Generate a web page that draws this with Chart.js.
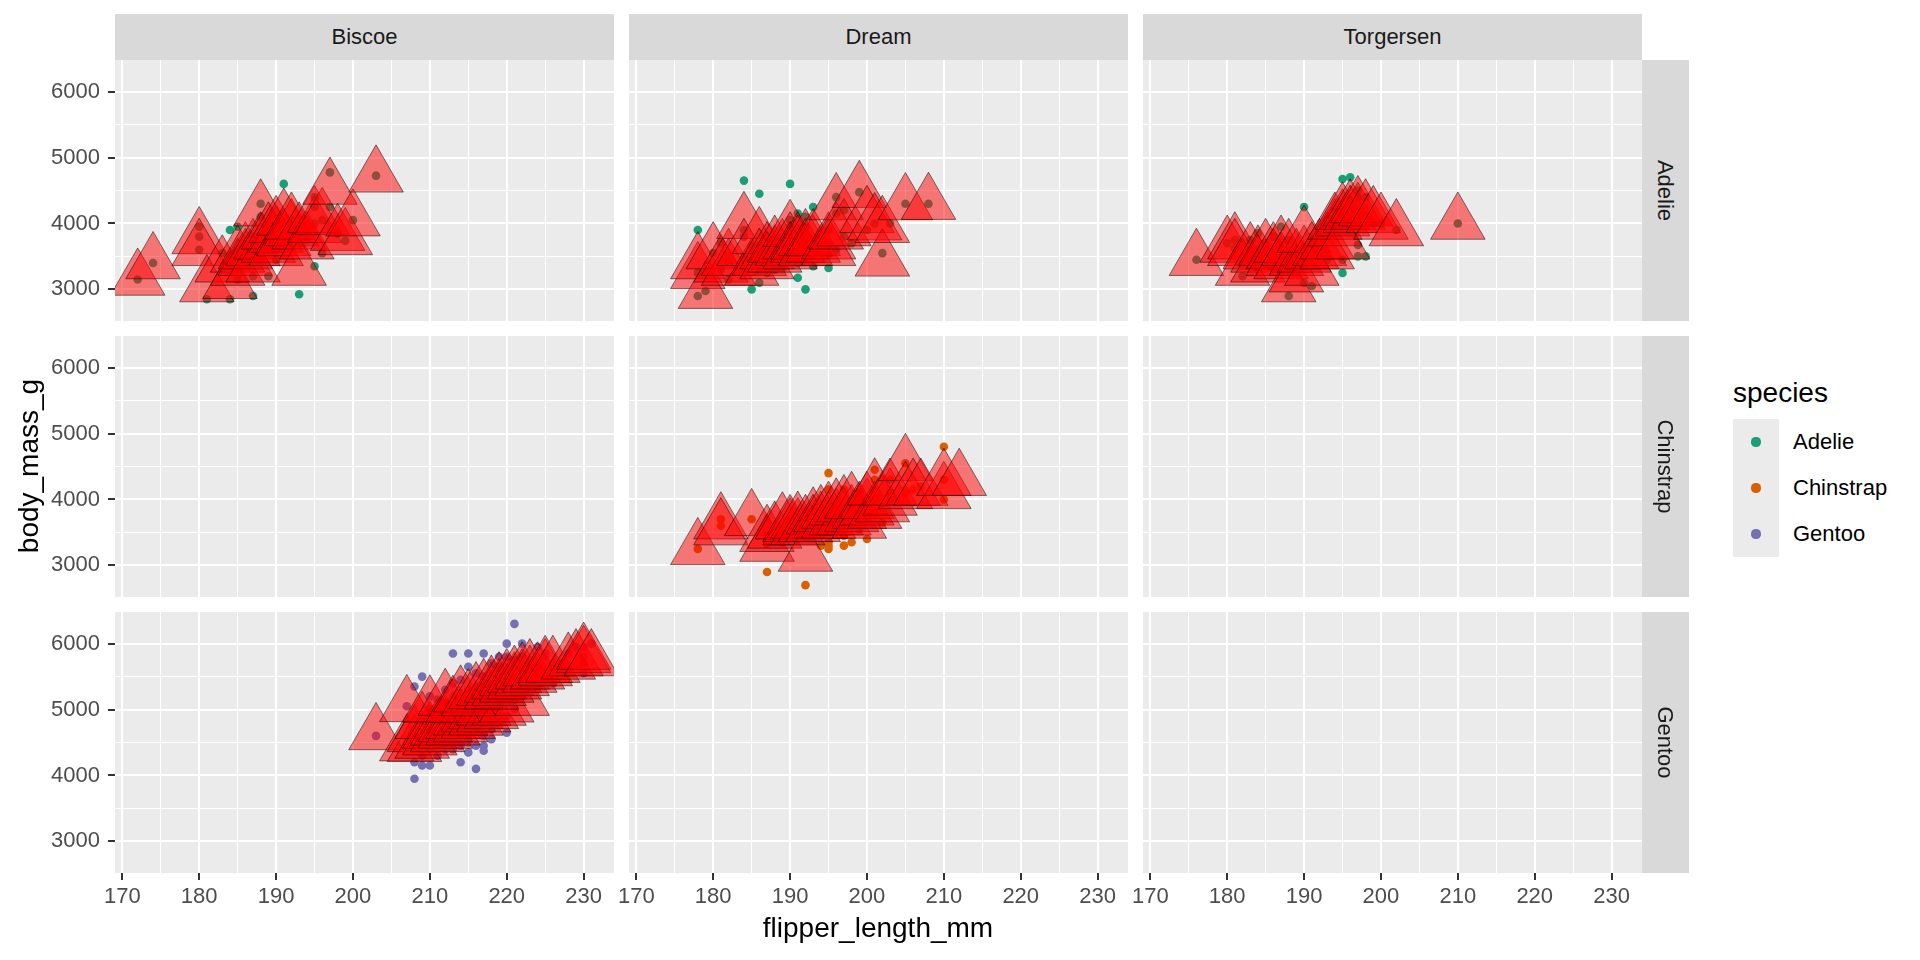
<!DOCTYPE html>
<html>
<head>
<meta charset="utf-8">
<script src="https://cdn.jsdelivr.net/npm/chart.js@4.4.1/dist/chart.umd.min.js"></script>
<style>
  body { margin: 0; background: #fff; font-family: "Liberation Sans", Arial, sans-serif; }
  #wrap { position: relative; width: 1920px; height: 960px; overflow: hidden; }
  canvas { position: absolute; }
  .strip { position: absolute; background: #D9D9D9; color: #1A1A1A; font-size: 22px; text-align: center; overflow: hidden; }
  .strip-y span { position: absolute; text-align: center; transform: rotate(90deg); }
  .txt { position: absolute; white-space: nowrap; }
</style>
</head>
<body>
<div id="wrap"></div>
<script>
const islands = ['Biscoe', 'Dream', 'Torgersen'];
const speciesNames = ['Adelie', 'Chinstrap', 'Gentoo'];
const speciesColors = ['#1B9E77', '#D95F02', '#7570B3'];

const xTicks = [170, 180, 190, 200, 210, 220, 230];
const xMinor = [175, 185, 195, 205, 215, 225];
const yTicks = [3000, 4000, 5000, 6000];
const yMinor = [3500, 4500, 5500];

// [flipper_length_mm, body_mass_g]
const biscoeAdelie = [[174,3400],[180,3600],[189,3800],[185,3950],[180,3800],[187,3800],[183,3550],[187,3200],[172,3150],[180,3950],
  [186,3500],[188,4300],[190,3450],[200,4050],[187,2900],[191,3700],[186,3550],[193,3800],[181,2850],[194,3750],[185,3150],[195,4400],
  [185,3600],[192,4050],[184,2850],[192,3950],[195,3350],[188,4100],[193,2925],[198,3850],[190,3600],[190,3900],[196,3550],[197,4250],
  [190,3700],[195,4250],[191,4600],[184,3900],[187,3550],[195,4000],[189,3200],[196,4050],[197,4775],[199,3740],[203,4725]];
const biscoeAdelieFit = [[172,3150],[174,3400],[180,3780],[180,3600],[181,3050],[183,3350],[184,3100],[185,3500],[185,3300],[186,3450],
  [186,3550],[187,3600],[187,3350],[188,4200],[188,3700],[189,3650],[189,3850],[190,3800],[190,3950],[190,3600],[191,4060],[191,3750],
  [192,3900],[192,4000],[193,3850],[193,3300],[194,3700],[195,3950],[195,4100],[196,4070],[197,4530],[198,3830],[199,3765],[200,4050],[203,4715]];

const dreamAdelie = [[178,3250],[178,3900],[188,3300],[184,3900],[195,3325],[196,4150],[190,3950],[180,3550],[181,3300],[184,4650],
  [182,3150],[195,3900],[186,3100],[196,4400],[185,3000],[190,4600],[182,3425],[179,2975],[190,3450],[191,4150],[188,3500],[187,3450],
  [190,4050],[191,3400],[193,4250],[187,3250],[184,3475],[192,3950],[186,3275],[189,3325],[178,2900],[186,4450],[191,3175],[192,3000],
  [188,3400],[195,3525],[197,3800],[202,3550],[208,4300],[201,4000],[198,3700],[197,4200],[193,3350],[200,3900],[199,4475],[205,4300],
  [184,3800],[187,3700],[195,3675],[196,3600],[181,3700],[190,3725],[192,4100],[185,3650],[187,3625],[203,4000]];
const dreamAdelieFit = [[178,3250],[178,3400],[179,2950],[180,3550],[181,3350],[182,3300],[182,3450],[184,4010],[184,3600],[185,3300],
  [186,3780],[186,3450],[187,3550],[187,3400],[188,3500],[188,3650],[189,3600],[190,3890],[190,3700],[190,3550],[191,3700],[191,3650],
  [192,3750],[192,3600],[193,3650],[193,3750],[195,3700],[195,3600],[196,4295],[196,3850],[197,3900],[199,4480],[200,4100],[201,3990],
  [202,3440],[202,3950],[205,4295],[208,4300]];

const torgersenAdelie = [[181,3750],[186,3800],[195,3250],[193,3450],[190,3650],[181,3625],[195,4675],[193,3475],[190,4250],[186,3300],
  [180,3700],[182,3200],[191,3800],[198,4400],[185,3700],[195,3450],[197,4500],[184,3325],[194,4200],[176,3450],[184,3600],[187,3450],
  [189,3300],[188,2900],[191,3050],[190,3350],[195,3950],[196,4700],[196,4150],[199,4000],[202,3900],[197,3500],[198,3500],[210,4000],
  [189,3500],[187,3550],[192,3600],[195,4100],[196,4350],[197,4400],[193,4050],[188,3750],[185,3675],[183,3750],[186,3400],[190,3100],
  [184,3850],[187,3950],[197,3675],[194,3900],[200,4000]];
const torgersenAdelieFit = [[176,3450],[180,3650],[181,3700],[181,3600],[182,3300],[183,3550],[184,3500],[184,3350],[185,3600],[186,3550],
  [186,3450],[187,3650],[187,3400],[188,3050],[188,3600],[189,3450],[189,3200],[190,3500],[190,3800],[191,3550],[191,3300],[192,3600],
  [193,3700],[193,3550],[194,3900],[194,4000],[195,4050],[195,4150],[195,3700],[196,4200],[196,4100],[197,4150],[197,4250],[198,4200],
  [199,4100],[200,4000],[202,3900],[210,4000]];

const dreamChinstrap = [[192,3500],[196,3900],[193,3650],[188,3525],[197,3725],[198,3950],[178,3250],[197,3750],[195,4150],[198,3700],
  [193,3800],[194,3775],[185,3700],[201,4050],[190,3575],[201,4300],[197,3300],[181,3700],[190,3450],[195,4400],[181,3600],[191,3400],
  [187,2900],[193,3800],[195,3300],[197,4150],[200,3400],[200,3800],[191,3700],[205,4550],[192,2700],[201,4450],[187,3325],[203,4300],
  [195,3350],[199,4100],[195,3250],[210,4800],[192,3675],[205,4100],[210,4000],[187,3350],[196,3600],[199,3550],[202,3650],[191,3575],
  [198,3800],[203,4100],[194,3300],[206,4150],[189,3350],[210,4300],[195,3775],[199,3600],[190,3700],[197,3450],[200,3675],[193,3500],
  [187,3450],[201,3800],[191,3450],[203,4000],[202,3950],[207,4200],[196,3700],[198,3350],[194,3525],[193,3525]];
const dreamChinstrapFit = [[178,3250],[181,3640],[181,3550],[185,3690],[187,3300],[187,3450],[188,3500],[189,3640],[190,3550],[190,3600],
  [191,3550],[191,3650],[192,3150],[192,3600],[193,3715],[193,3600],[194,3650],[194,3750],[195,3650],[195,3800],[196,3700],[196,3850],
  [197,3700],[197,3900],[198,3750],[198,3950],[199,3800],[199,3650],[200,3850],[200,3950],[201,3800],[201,4155],[202,3900],[203,4000],
  [203,4150],[205,4525],[205,4100],[206,4150],[207,4150],[210,4100],[210,4300],[212,4300]];

const biscoeGentoo = [[203,4600],[208,3950],[208,4200],[209,4150],[210,4150],[210,4450],[210,4400],[211,4450],[211,4300],[212,4500],
  [212,4650],[213,4400],[213,4500],[213,4550],[214,4650],[214,4850],[215,4350],[215,4700],[215,4900],[216,4100],[216,4700],[216,4750],
  [217,4375],[217,4600],[217,4625],[217,4950],[218,4700],[218,4750],[218,5000],[219,4850],[209,4600],[210,4700],[211,4600],[212,4400],
  [212,4875],[213,4925],[214,4750],[215,4500],[216,4450],[209,4300],[210,4550],[211,4850],[212,4800],[214,4200],[215,4550],[213,4675],
  [216,4800],[219,4800],[220,4900],[222,5200],[220,4650],[218,4550],[217,4450],[221,5000],[214,4450],
  [208,5350],[209,5500],[210,5200],[211,5150],[212,5300],[213,5850],[213,5400],[214,5450],[215,5650],[215,5300],[215,5000],[216,5550],
  [216,5200],[217,5850],[217,5500],[218,5700],[218,5300],[219,5650],[219,5500],[220,6000],[220,5800],[220,5350],[221,6300],[221,5600],
  [221,5150],[222,5600],[222,5800],[222,6000],[222,5400],[223,5600],[223,5700],[224,5950],[224,5650],[225,5500],[225,5800],[226,5700],
  [226,5400],[227,5700],[228,5850],[228,5600],[229,5950],[230,5800],[230,5700],[230,5550],[231,6000],[230,5950],[225,5850],[224,5350],
  [226,5650],[223,5550],[219,5800],[221,5750],[215,5850],[217,5350],[220,5500],[212,5100],[207,5050],[218,5050],[210,5000]];
const biscoeGentooFit = [[203,4630],[207,4460],[208,4450],[208,4600],[209,4500],[209,4800],[210,4550],[210,4650],[211,4600],[211,4700],
  [212,4650],[212,4750],[213,4700],[213,4800],[214,4750],[214,4850],[215,4800],[215,4900],[216,4850],[216,4950],[217,4900],[217,5000],
  [218,4950],[219,5000],[220,5050],[222,5150],
  [207,5055],[210,5050],[212,5150],[213,5044],[214,5200],[215,5145],[216,5250],[217,5300],[218,5245],[218,5350],[219,5300],[219,5400],
  [220,5350],[220,5450],[221,5400],[221,5500],[222,5450],[222,5550],[223,5500],[223,5600],[224,5550],[225,5600],[225,5650],[226,5650],
  [228,5700],[229,5750],[230,5800],[230,5850],[231,5750]];

const panels = [
  {row: 0, col: 0, sp: 0, dots: biscoeAdelie, fit: biscoeAdelieFit},
  {row: 0, col: 1, sp: 0, dots: dreamAdelie, fit: dreamAdelieFit},
  {row: 0, col: 2, sp: 0, dots: torgersenAdelie, fit: torgersenAdelieFit},
  {row: 1, col: 0, sp: 1, dots: [], fit: []},
  {row: 1, col: 1, sp: 1, dots: dreamChinstrap, fit: dreamChinstrapFit},
  {row: 1, col: 2, sp: 1, dots: [], fit: []},
  {row: 2, col: 0, sp: 2, dots: biscoeGentoo, fit: biscoeGentooFit},
  {row: 2, col: 1, sp: 2, dots: [], fit: []},
  {row: 2, col: 2, sp: 2, dots: [], fit: []},
];

// layout (px)
const colLeft = [115, 629, 1143], PW = 499;
const rowTop = [60, 336, 612], PH = 261;
const wrap = document.getElementById('wrap');

const panelBg = {
  id: 'panelBg',
  beforeDraw(chart) {
    const a = chart.chartArea, ctx = chart.ctx;
    ctx.save();
    ctx.fillStyle = '#EBEBEB';
    ctx.fillRect(a.left, a.top, a.right - a.left, a.bottom - a.top);
    ctx.restore();
  }
};

function addDiv(cls, css, text) {
  const d = document.createElement('div');
  d.className = cls;
  d.style.cssText = css;
  if (text) d.textContent = text;
  wrap.appendChild(d);
  return d;
}

function makePanel(p) {
  const isLeft = p.col === 0, isBottom = p.row === 2;
  const padL = isLeft ? 0 : 20, padR = 20;
  const axisW = isLeft ? 75 : 0, axisH = isBottom ? 40 : 0;
  const w = padL + axisW + PW + padR, h = PH + axisH;
  const canvas = document.createElement('canvas');
  canvas.width = w; canvas.height = h;
  canvas.style.left = (colLeft[p.col] - padL - axisW) + 'px';
  canvas.style.top = rowTop[p.row] + 'px';
  canvas.style.width = w + 'px'; canvas.style.height = h + 'px';
  wrap.appendChild(canvas);

  const tickFont = {family: '"Liberation Sans", Arial, sans-serif', size: 22};
  const fixPad = s => { s.paddingLeft = 0; s.paddingRight = 0; s.paddingTop = 0; s.paddingBottom = 0; };

  new Chart(canvas.getContext('2d'), {
    type: 'scatter',
    data: {
      datasets: [{
        data: p.fit.map(d => ({x: d[0], y: d[1]})),
        pointStyle: 'triangle',
        pointRadius: 31.5,
        pointHoverRadius: 31.5,
        backgroundColor: 'rgba(255,0,0,0.5)',
        borderColor: 'rgba(0,0,0,0.5)',
        borderWidth: 1,
        clip: 0
      }, {
        data: p.dots.map(d => ({x: d[0], y: d[1]})),
        pointStyle: 'circle',
        pointRadius: 4.3,
        pointHoverRadius: 4.3,
        backgroundColor: speciesColors[p.sp],
        borderWidth: 0,
        clip: 0
      }]
    },
    options: {
      responsive: false,
      animation: false,
      events: [],
      layout: {autoPadding: false, padding: {left: padL, right: padR, top: 0, bottom: 0}},
      plugins: {legend: {display: false}, tooltip: {enabled: false}},
      scales: {
        x: {
          type: 'linear', min: 169.05, max: 233.95,
          afterBuildTicks: s => { s.ticks = xTicks.concat(xMinor).sort((a, b) => a - b).map(v => ({value: v})); },
          afterFit: s => { s.height = axisH; fixPad(s); },
          border: {display: false},
          grid: {
            color: '#FFFFFF',
            lineWidth: c => xTicks.includes(c.tick && c.tick.value) ? 2 : 1,
            drawTicks: isBottom,
            tickLength: 7,
            tickColor: c => xTicks.includes(c.tick && c.tick.value) ? '#333333' : 'rgba(0,0,0,0)',
            tickWidth: 2
          },
          ticks: {
            display: isBottom, autoSkip: false, maxRotation: 0, padding: 4,
            color: '#4D4D4D', font: tickFont,
            callback: v => xTicks.includes(v) ? String(v) : ''
          }
        },
        y: {
          type: 'linear', min: 2520, max: 6480,
          afterBuildTicks: s => { s.ticks = yTicks.concat(yMinor).sort((a, b) => a - b).map(v => ({value: v})); },
          afterFit: s => { s.width = axisW; fixPad(s); },
          border: {display: false},
          grid: {
            color: '#FFFFFF',
            lineWidth: c => yTicks.includes(c.tick && c.tick.value) ? 2 : 1,
            drawTicks: isLeft,
            tickLength: 7,
            tickColor: c => yTicks.includes(c.tick && c.tick.value) ? '#333333' : 'rgba(0,0,0,0)',
            tickWidth: 2
          },
          ticks: {
            display: isLeft, padding: 8,
            color: '#4D4D4D', font: tickFont,
            callback: v => yTicks.includes(v) ? String(v) : ''
          }
        }
      }
    },
    plugins: [panelBg]
  });
}

panels.forEach(makePanel);

// facet strips
islands.forEach((name, c) => {
  addDiv('strip', `left:${colLeft[c]}px;top:14px;width:${PW}px;height:46px;line-height:46px;`, name);
});
speciesNames.forEach((name, r) => {
  const s = addDiv('strip strip-y', `left:1642px;top:${rowTop[r]}px;width:47px;height:${PH}px;`);
  const t = document.createElement('span');
  t.style.cssText = `left:${(47 - PH) / 2}px;top:${(PH - 47) / 2}px;width:${PH}px;height:47px;line-height:47px;`;
  t.textContent = name;
  s.appendChild(t);
});

// axis titles
addDiv('txt', 'left:578px;top:914px;width:600px;text-align:center;font-size:28px;line-height:28px;color:#000;', 'flipper_length_mm');
addDiv('txt', 'left:-71px;top:452px;width:200px;text-align:center;font-size:28px;line-height:28px;color:#000;transform:rotate(-90deg);', 'body_mass_g');

// legend
addDiv('txt', 'left:1733px;top:379px;font-size:28px;line-height:28px;color:#000;', 'species');
addDiv('txt', 'left:1733px;top:419px;width:46px;height:138px;background:#EBEBEB;', '');
speciesNames.forEach((name, i) => {
  const cy = 442 + i * 46;
  addDiv('txt', `left:${1756 - 4.6}px;top:${cy - 4.6}px;width:9.2px;height:9.2px;border-radius:50%;background:${speciesColors[i]};`, '');
  addDiv('txt', `left:1793px;top:${419 + i * 46}px;height:46px;line-height:46px;font-size:22px;color:#000;`, name);
});
</script>
</body>
</html>
